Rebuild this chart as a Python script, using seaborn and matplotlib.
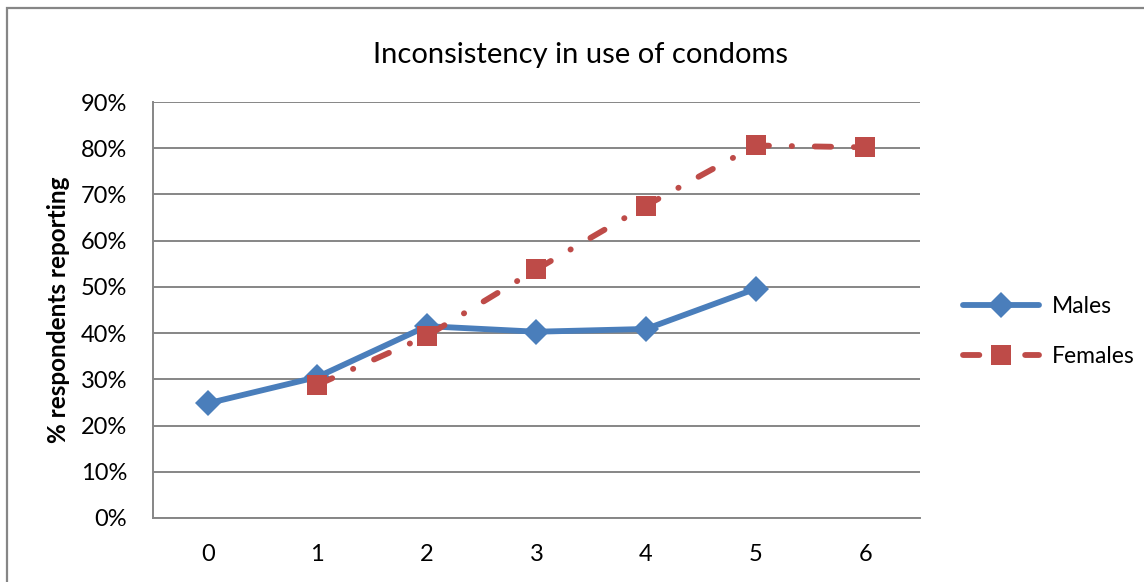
import matplotlib
matplotlib.use("Agg")
import matplotlib.pyplot as plt
from matplotlib.lines import Line2D
from matplotlib.patches import Rectangle
from matplotlib.ticker import PercentFormatter
import pandas as pd
import seaborn as sns

# Share of respondents reporting inconsistent condom use, by group
groups = [0, 1, 2, 3, 4, 5, 6]
males = [24.8, 30.5, 41.5, 40.3, 40.9, 49.6, None]
females = [None, 28.8, 39.4, 53.8, 67.6, 80.6, 80.2]
series_names = ["Males", "Females"]
title = "Inconsistency in use of condoms"
y_label = "% respondents reporting"

rows = []
for name, vals in zip(series_names, [males, females]):
    for g, v in zip(groups, vals):
        if v is not None:
            rows.append({"group": g, "pct": v, "sex": name})
df = pd.DataFrame(rows)

sns.set_theme(style="white")
plt.rcParams["font.family"] = ["Lato", "DejaVu Sans"]
plt.rcParams["text.color"] = "black"

blue = "#4A7EBB"
red = "#BE4B48"
grid_c = "#868686"
lw = 4.2
dash_pat = (2.8, 3.9, 0.05, 3.9)

fig = plt.figure(figsize=(11.44, 5.82), dpi=100)
ax = fig.add_axes([0.1337, 0.110, 0.6705, 0.7147])

sns.lineplot(
    data=df, x="group", y="pct", hue="sex", style="sex",
    hue_order=series_names, style_order=series_names,
    palette={"Males": blue, "Females": red},
    markers={"Males": "D", "Females": "s"},
    dashes={"Males": "", "Females": dash_pat},
    linewidth=lw, markersize=13, markeredgewidth=0,
    legend=False, ax=ax,
)
for ln in ax.get_lines():
    ln.set_dash_capstyle("round")
    ln.set_solid_capstyle("round")
ax.get_lines()[0].set_markersize(13.5)
ax.get_lines()[1].set_markersize(14.5)

ax.set_xlim(-0.5, 6.5)
ax.set_ylim(0, 90)
ax.set_xticks(groups)
ax.set_yticks(range(0, 91, 10))
ax.yaxis.set_major_formatter(PercentFormatter(decimals=0))
ax.grid(axis="y", color=grid_c, linewidth=1.4)
ax.set_axisbelow(True)
for side in ["top", "right"]:
    ax.spines[side].set_visible(False)
for side in ["left", "bottom"]:
    ax.spines[side].set_color(grid_c)
    ax.spines[side].set_linewidth(1.4)
ax.tick_params(axis="both", labelsize=17, colors="black", length=0)
ax.tick_params(axis="x", pad=19)
ax.tick_params(axis="y", pad=18.5)
ax.set_xlabel("")
ax.set_ylabel(y_label, fontsize=17.5, fontweight="bold", labelpad=8, color="black")
ax.set_title(title, fontsize=21, pad=28, color="black", x=0.557)

handles = [
    Line2D([], [], color=blue, linewidth=lw, marker="D", markersize=13.5,
           markeredgewidth=0, solid_capstyle="round"),
    Line2D([], [], color=red, linewidth=lw, marker="s", markersize=14.5,
           markeredgewidth=0, dashes=dash_pat, dash_capstyle="round"),
]
fig.legend(handles, series_names, loc="center left",
           bbox_to_anchor=(0.824, 0.43), frameon=False, fontsize=16.5,
           handlelength=3.3, labelspacing=1.25, handletextpad=0.55)

# chart frame
fig.patches.append(Rectangle((7 / 1144, -0.05), 1.2, (582 - 8) / 582 + 0.05,
                             transform=fig.transFigure, fill=False,
                             edgecolor=grid_c, linewidth=1.6))

fig.savefig("out.png", dpi=100)
